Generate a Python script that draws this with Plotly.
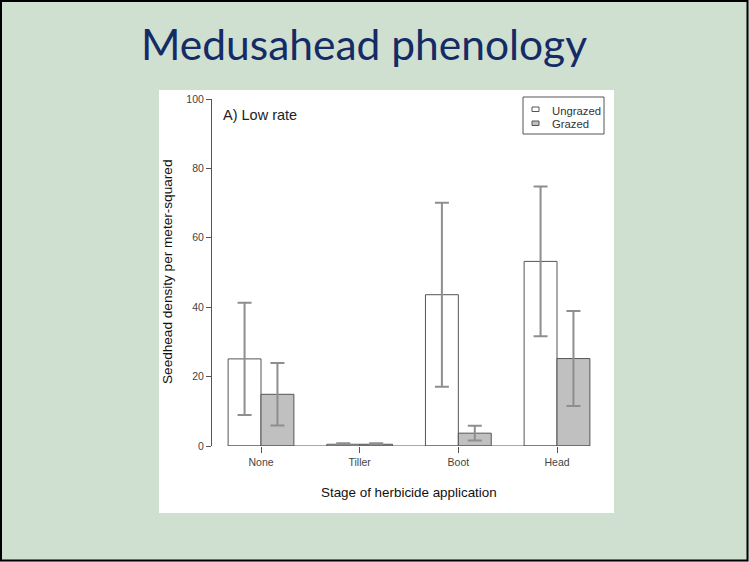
import plotly.graph_objects as go

# Seedhead density by herbicide application stage (low rate)
stages = ["None", "Tiller", "Boot", "Head"]
ungrazed = [25.1, 0.5, 43.6, 53.2]
ungrazed_se = [16.2, 0.3, 26.5, 21.6]
grazed = [14.9, 0.5, 3.7, 25.2]
grazed_se = [9.0, 0.3, 2.1, 13.7]
y_ticks = [0, 20, 40, 60, 80, 100]

W, H = 749, 562
BAR_W = 1 / 3
FONT = "Liberation Sans, Arial, sans-serif"


def fx(px):
    return px / W


def fy(py):
    return 1 - py / H


xpos = list(range(len(stages)))

fig = go.Figure()
fig.add_trace(go.Bar(
    x=xpos, y=ungrazed, name="Ungrazed",
    marker=dict(color="white", line=dict(color="#555555", width=1)),
    error_y=dict(type="data", array=ungrazed_se, color="#8e8e8e", thickness=2, width=7),
))
fig.add_trace(go.Bar(
    x=xpos, y=grazed, name="Grazed",
    marker=dict(color="#c0c0c0", line=dict(color="#555555", width=1)),
    error_y=dict(type="data", array=grazed_se, color="#8e8e8e", thickness=2, width=7),
))

# axis placement (pixel positions of the plotting region)
x_left_px, x_right_px = 212, 605
center0_px, spacing_px = 261, 98.67
x_range = [-(center0_px - x_left_px) / spacing_px,
           (len(stages) - 1) + (x_right_px - (center0_px + spacing_px * (len(stages) - 1))) / spacing_px]

shapes = [
    # white chart panel
    dict(type="rect", xref="paper", yref="paper", x0=fx(159), x1=fx(614), y0=fy(513), y1=fy(90),
         fillcolor="white", line=dict(width=0), layer="below"),
    # slide border
    dict(type="rect", xref="paper", yref="paper", x0=fx(1), x1=fx(747.5), y0=fy(560.5), y1=fy(1),
         fillcolor="rgba(0,0,0,0)", line=dict(color="black", width=2)),
    # baseline under the bars
    dict(type="line", xref="x", yref="y", x0=xpos[0] - BAR_W, x1=xpos[-1] + BAR_W, y0=0, y1=0,
         line=dict(color="#555555", width=1)),
    # legend box
    dict(type="rect", xref="paper", yref="paper", x0=fx(523), x1=fx(604), y0=fy(134), y1=fy(97),
         fillcolor="white", line=dict(color="#555555", width=1)),
    dict(type="rect", xref="paper", yref="paper", x0=fx(532), x1=fx(539), y0=fy(111.5), y1=fy(107),
         fillcolor="white", line=dict(color="#555555", width=1)),
    dict(type="rect", xref="paper", yref="paper", x0=fx(532), x1=fx(539), y0=fy(125.5), y1=fy(121),
         fillcolor="#c0c0c0", line=dict(color="#555555", width=1)),
]


def label(text, px, py, size, color, family=FONT, xanchor="center", angle=0):
    return dict(text=text, xref="paper", yref="paper", x=fx(px), y=fy(py),
                xanchor=xanchor, yanchor="middle", textangle=angle, showarrow=False,
                font=dict(family=family, size=size, color=color))


annotations = [
    label("Medusahead phenology", 364, 44, 42.5, "#142b66", family="Lato, sans-serif"),
    label("A) Low rate", 221, 115, 14.5, "#222222", xanchor="left"),
    label("Ungrazed", 550, 110.5, 11.3, "#333333", xanchor="left"),
    label("Grazed", 550, 124.5, 11.3, "#333333", xanchor="left"),
    label("Seedhead density per meter-squared", 167, 272, 13.6, "#111111", angle=-90),
    label("Stage of herbicide application", 409, 492, 13.4, "#111111"),
]

fig.update_layout(
    width=W, height=H,
    margin=dict(l=0, r=0, t=0, b=0, pad=0, autoexpand=False),
    paper_bgcolor="#cfe0d0",
    plot_bgcolor="rgba(0,0,0,0)",
    barmode="group", bargap=1 - 2 * BAR_W, bargroupgap=0,
    showlegend=False,
    shapes=shapes,
    annotations=annotations,
    xaxis=dict(
        domain=[fx(x_left_px), fx(x_right_px)], range=x_range,
        tickvals=xpos, ticktext=stages, ticks="outside", ticklen=6, tickcolor="#555555",
        showline=False, showgrid=False, zeroline=False,
        tickfont=dict(family=FONT, size=10.5, color="#444444"),
    ),
    yaxis=dict(
        domain=[fy(446), fy(99)], range=[0, 100],
        tickvals=y_ticks, ticksuffix=" ", ticks="outside", ticklen=5, tickcolor="#555555",
        showline=True, linecolor="#555555", linewidth=1,
        showgrid=False, zeroline=False,
        tickfont=dict(family=FONT, size=10.5, color="#444444"),
    ),
)

fig.write_html("out.html")
